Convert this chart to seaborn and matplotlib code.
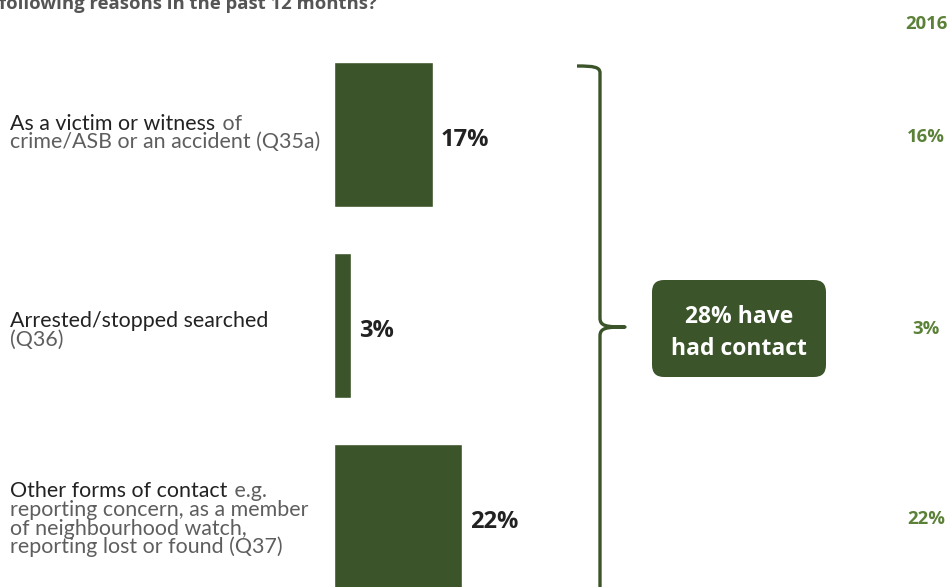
import matplotlib
matplotlib.use("Agg")
import matplotlib.pyplot as plt
import seaborn as sns
import pandas as pd
from matplotlib.patches import FancyBboxPatch, PathPatch
from matplotlib.path import Path

# ---- data ----
categories = ["Victim/witness", "Arrested/stopped searched", "Other forms of contact"]
values_2017 = [17, 3, 22]
values_2016 = [16, 3, 22]
label_heads = ["As a victim or witness", "Arrested/stopped searched", "Other forms of contact"]
label_tails_inline = [" of", "", " e.g."]
label_rest = [
    ["crime/ASB or an accident (Q35a)"],
    ["(Q36)"],
    ["reporting concern, as a member", "of neighbourhood watch,", "reporting lost or found (Q37)"],
]
total_contact = 28
prev_year = "2016"
title_text = "following reasons in the past 12 months?"

# ---- style ----
sns.set_theme(style="white")
plt.rcParams["font.family"] = ["Lato", "DejaVu Sans"]

BAR = "#3b5429"
GREEN_LIGHT = "#5b8139"
DARK = "#222222"
GREY = "#5e5e5e"
BOLD_FONT = ["Open Sans", "DejaVu Sans"]

W, H = 950, 587
fig = plt.figure(figsize=(W / 100, H / 100), dpi=100)


def fx(px):
    return px / W


def fy(py):
    return 1 - py / H


# axes whose x-origin sits where the bars start
x0_px, px_per_pct = 334, 99 / 17
ax = fig.add_axes([fx(x0_px), 0, 1 - fx(x0_px), 1])
ax.set_xlim(0, (W - x0_px) / px_per_pct)

df = pd.DataFrame({"category": categories, "value": values_2017})
sns.barplot(data=df, y="category", x="value", orient="h", color=BAR,
            saturation=1, width=145 / 191, ax=ax)

first_center, spacing = 134.5, 191
ax.set_ylim((H - first_center) / spacing, -first_center / spacing)
ax.axis("off")

# value labels next to bars
for i, v in enumerate(values_2017):
    ax.text(v + 8 / px_per_pct, i + 2.5 / spacing, f"{v}%", ha="left",
            va="center_baseline", fontsize=17, fontweight="bold", color=DARK,
            family=BOLD_FONT)

# title (partly above the figure edge)
fig.text(fx(-1), fy(9), title_text, ha="left", va="baseline",
         fontsize=13.3, fontweight="bold", color="#555555", family=BOLD_FONT)

# category labels
label_size = 15.4
line_gap = 18.8
head_baselines = [129.5, 327, 497]
for i in range(3):
    t = fig.text(fx(10), fy(head_baselines[i]), label_heads[i], ha="left",
                 va="baseline", fontsize=label_size, color=DARK)
    if label_tails_inline[i]:
        ax.annotate(label_tails_inline[i], xy=(1.0, 0), xycoords=t,
                    xytext=(1, 0), textcoords="offset points",
                    ha="left", va="bottom", fontsize=label_size, color=GREY)
    for j, line in enumerate(label_rest[i]):
        fig.text(fx(10), fy(head_baselines[i] + line_gap * (j + 1)), line,
                 ha="left", va="baseline", fontsize=label_size, color=GREY)

# previous-year column
fig.text(fx(926), fy(22), prev_year, ha="center", va="center_baseline",
         fontsize=13.3, fontweight="bold", color=GREEN_LIGHT, family=BOLD_FONT)
for i, v in enumerate(values_2016):
    fig.text(fx(926), fy(first_center + 1 + spacing * i), f"{v}%",
             ha="center", va="center_baseline",
             fontsize=13.3, fontweight="bold", color=GREEN_LIGHT,
             family=BOLD_FONT)

# curly bracket grouping the three bars
bx, top, mid, tip = 600, 66, 327, 625
verts = [
    (fx(577), fy(top)), (fx(594), fy(top)), (fx(bx), fy(top + 1)), (fx(bx), fy(top + 7)),
    (fx(bx), fy(mid - 9)),
    (fx(bx), fy(mid - 1)), (fx(bx + 6), fy(mid)), (fx(tip), fy(mid)),
    (fx(bx + 6), fy(mid)), (fx(bx), fy(mid + 1)), (fx(bx), fy(mid + 9)),
    (fx(bx), fy(H + 5)),
]
codes = [Path.MOVETO, Path.CURVE4, Path.CURVE4, Path.CURVE4,
         Path.LINETO,
         Path.CURVE4, Path.CURVE4, Path.CURVE4,
         Path.CURVE4, Path.CURVE4, Path.CURVE4,
         Path.LINETO]
fig.patches.append(PathPatch(Path(verts, codes), transform=fig.transFigure,
                             fill=False, edgecolor=BAR, linewidth=2.4,
                             capstyle="butt", joinstyle="round"))

# summary box
bx0, by0, bx1, by1 = 652, 280, 826, 377
box = FancyBboxPatch((fx(bx0 + 12), fy(by1 - 12)),
                     fx(bx1 - bx0 - 24), (by1 - by0 - 24) / H,
                     boxstyle=f"round,pad={12 / W},rounding_size={12 / W}",
                     transform=fig.transFigure, facecolor=BAR, edgecolor="none",
                     mutation_aspect=W / H)
fig.patches.append(box)
fig.text(fx((bx0 + bx1) / 2), fy(314), f"{total_contact}% have",
         ha="center", va="center_baseline", fontsize=16.5, fontweight="bold",
         color="white", family=BOLD_FONT)
fig.text(fx((bx0 + bx1) / 2), fy(346), "had contact",
         ha="center", va="center_baseline", fontsize=16.5, fontweight="bold",
         color="white", family=BOLD_FONT)

fig.savefig("out.png", dpi=100)
